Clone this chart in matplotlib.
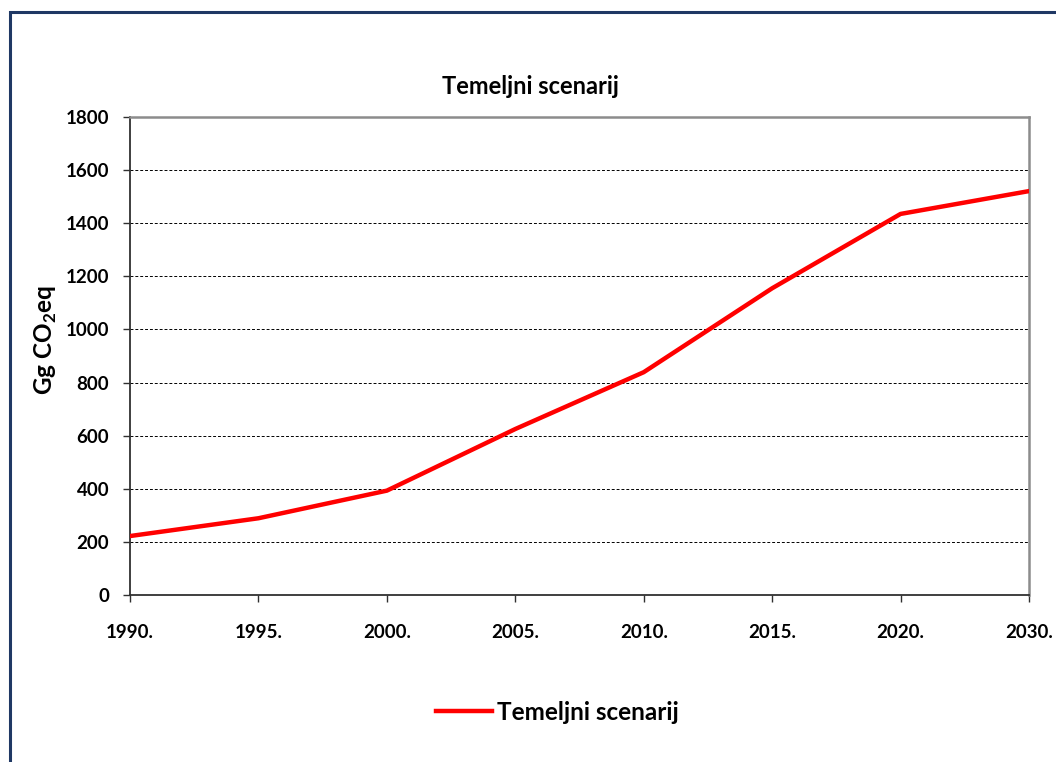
import matplotlib
matplotlib.use("Agg")
import matplotlib.pyplot as plt
from matplotlib.patches import Rectangle

plt.rcParams['font.family'] = ['Lato', 'DejaVu Sans']

# data
years = ["1990.", "1995.", "2000.", "2005.", "2010.", "2015.", "2020.", "2030."]
emissions = [222, 289, 393, 625, 839, 1155, 1435, 1521]
y_ticks = [0, 200, 400, 600, 800, 1000, 1200, 1400, 1600, 1800]

W, H = 1056, 762
fig = plt.figure(figsize=(W / 100, H / 100), dpi=100)
ax = fig.add_axes([130 / W, 1 - 595 / H, (1029 - 130) / W, (595 - 117) / H])

x = list(range(len(years)))
ax.plot(x, emissions, color='#ff0000', linewidth=3.2, solid_joinstyle='round',
        label='Temeljni scenarij', zorder=3)

ax.set_xlim(0, len(years) - 1)
ax.set_ylim(0, 1800)
ax.set_yticks(y_ticks)
ax.set_xticks(x)
ax.set_xticklabels(years)
ax.yaxis.grid(True, color='black', linestyle=(0, (3, 2)), linewidth=0.7)
ax.set_axisbelow(True)

for side in ('left', 'bottom'):
    ax.spines[side].set_color('#303030')
    ax.spines[side].set_linewidth(1.3)
for side in ('top', 'right'):
    ax.spines[side].set_color('#8c8c8c')
    ax.spines[side].set_linewidth(1.8)

ax.tick_params(axis='y', direction='out', length=5, width=1, pad=10,
               labelsize=13.5, colors='#303030', labelcolor='black')
ax.tick_params(axis='x', direction='out', length=5, width=1, pad=16,
               labelsize=13.5, colors='#303030', labelcolor='black')
for lbl in ax.get_xticklabels() + ax.get_yticklabels():
    lbl.set_fontweight('bold')

fig.text(530 / W, 1 - 87 / H, 'Temeljni scenarij', ha='center', va='center',
         fontsize=17, fontweight='bold')
fig.text(46 / W, 1 - 340 / H, r'Gg CO$_\mathregular{2}$eq', ha='center', va='center',
         rotation=90, fontsize=17.5, fontweight='bold')

leg = fig.legend(loc='center', bbox_to_anchor=(557 / W, 1 - 712 / H), frameon=False,
                 handlelength=2.3, handletextpad=0.2,
                 prop={'size': 17.5, 'weight': 'bold'})

# outer chart frame (runs off the right and bottom edges)
fig.patches.append(Rectangle((10 / W, -0.05), 1.2, 1.05 - 12 / H,
                             transform=fig.transFigure, fill=False,
                             edgecolor='#1f3864', linewidth=2.2))

fig.savefig('out.png', dpi=100)
